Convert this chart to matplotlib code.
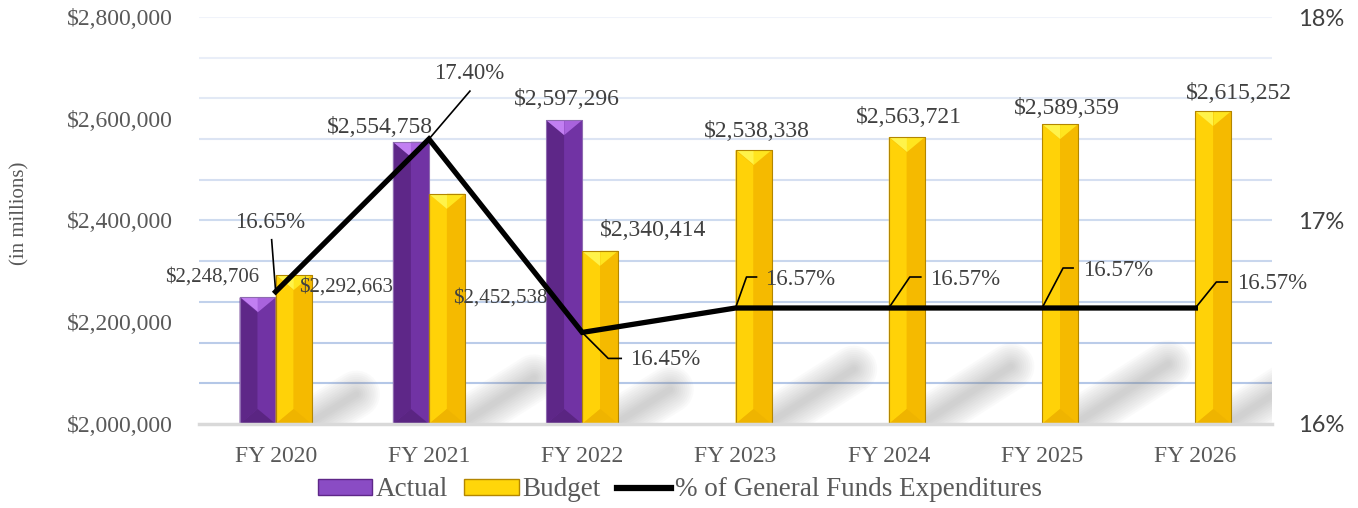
import matplotlib
matplotlib.use("Agg")
import matplotlib.pyplot as plt
import matplotlib.transforms as mtransforms
from matplotlib.patches import Polygon, Rectangle
from matplotlib.lines import Line2D
import numpy as np

# ---------------- data ----------------
categories = ["FY 2020", "FY 2021", "FY 2022", "FY 2023", "FY 2024", "FY 2025", "FY 2026"]
actual = [2248706, 2554758, 2597296, None, None, None, None]
budget = [2292663, 2452538, 2340414, 2538338, 2563721, 2589359, 2615252]
pct_gf = [16.65, 17.40, 16.45, 16.57, 16.57, 16.57, 16.57]
left_ticks = [2000000, 2200000, 2400000, 2600000, 2800000]
right_ticks = [16, 17, 18]
series_names = ["Actual", "Budget", "% of General Funds Expenditures"]

# ---------------- layout / style ----------------
W, H, DPI = 13.58, 5.08, 100
YMIN, YMAX = 2000000, 2800000
PMIN, PMAX = 16, 18
SERIF = "Liberation Serif"
TXT = "#404040"
TICK = "#595959"

# label offsets in pixels (dx right, dy up) relative to bar top centre / line point
act_off = [(-46, 20, 15), (-31, 14, 17), (3, 21, 17)]
bud_off = [(52, -12, 15), (53, -104, 15), (53, 20, 17), (3, 19, 17), (2, 20, 17), (7, 16, 17), (26, 17, 17)]
pct_off = [(-6, 69), (40, 66), (83, -27), (65, 29), (76, 29), (76, 38), (77, 25)]
leaders = [
    [(0, 0), (-4, 52)],
    [(0, 0), (41, 48)],
    [(0, 0), (26, -26), (39, -26)],
    [(0, 0), (11, 31), (21, 31)],
    [(0, 0), (21, 31), (32, 31)],
    [(0, 0), (21, 40), (31, 40)],
    [(0, 0), (21, 26), (32, 26)],
]

fig = plt.figure(figsize=(W, H), dpi=DPI)
L, R, T, B = 199, 1272, 17, 424
ax = fig.add_axes([L / 1358, 1 - B / 508, (R - L) / 1358, (B - T) / 508])
ax.set_xlim(-0.5, len(categories) - 0.5)
ax.set_ylim(YMIN, YMAX)

xs_px = (len(categories)) / (R - L)     # data x per pixel
ys_px = (YMAX - YMIN) / (B - T)         # data y per pixel

# gridlines (fade towards top)
nlines = 10
for k in range(1, nlines + 1):
    yv = YMIN + k * (YMAX - YMIN) / nlines
    a = 1.0 - 0.8 * (k - 1) / (nlines - 1)
    ax.axhline(yv, color="#b4c7e7", alpha=a, lw=1.5, zorder=0.5)
ax.axhline(YMIN, color="#d9d9d9", lw=2.5, zorder=4, clip_on=False)

x = np.arange(len(categories))
w = 0.235

# soft shadows
for i, bv in enumerate(budget):
    hpx = (bv - YMIN) / ys_px
    x_start = i + w - 10 * xs_px
    y_start = YMIN - 4 * ys_px
    x_end = i + w + 0.30 * hpx * xs_px
    y_end = YMIN + 0.20 * hpx * ys_px
    for lw in np.arange(34, 3, -3):
        ax.plot([x_start, x_end], [y_start, y_end], color="#808080", lw=lw,
                alpha=0.035, solid_capstyle="round", zorder=1)

# bars
a_idx = [i for i, v in enumerate(actual) if v is not None]
a_vals = np.array([actual[i] for i in a_idx], dtype=float)
bars_a = ax.bar(np.array(a_idx) - w, a_vals - YMIN, bottom=YMIN, width=w, align="edge",
                color="#7030a0", edgecolor="#8e6bb0", lw=0.6, zorder=2)
bars_b = ax.bar(x, np.array(budget, dtype=float) - YMIN, bottom=YMIN, width=w, align="edge",
                color="#f6b900", edgecolor="#b38600", lw=0.6, zorder=2)

pal_a = dict(left="#5e2788", right="#7133a4", top1="#c27ff2", top2="#a963dd", bot="#5a2582")
pal_b = dict(left="#ffd208", right="#f5ba00", top1="#fff34a", top2="#ffe51f", bot="#efb400")

def bevel(rect, pal):
    x0, b = rect.get_x(), rect.get_y()
    bw, bh = rect.get_width(), rect.get_height()
    x1, t, xm = x0 + bw, b + bh, x0 + bw / 2
    d = 15 * ys_px
    polys = [
        ([(x0, b), (x0, t), (xm, t - d), (xm, b + d)], pal["left"]),
        ([(xm, b + d), (xm, t - d), (x1, t), (x1, b)], pal["right"]),
        ([(x0, t), (xm, t), (xm, t - d)], pal["top1"]),
        ([(xm, t), (x1, t), (xm, t - d)], pal["top2"]),
        ([(x0, b), (x1, b), (xm, b + d)], pal["bot"]),
    ]
    for pts, c in polys:
        ax.add_patch(Polygon(pts, closed=True, facecolor=c, edgecolor="none", zorder=2.5))
    ax.add_patch(Rectangle((x0, b), bw, bh, facecolor="none",
                           edgecolor=rect.get_edgecolor(), lw=0.8, zorder=2.6))

for r in bars_a:
    bevel(r, pal_a)
for r in bars_b:
    bevel(r, pal_b)

# bar labels
for j, i in enumerate(a_idx):
    dx, dy, fs = act_off[j]
    ax.annotate(f"${actual[i]:,.0f}", xy=(i - w / 2, actual[i]), xytext=(dx * 0.72, dy * 0.72),
                textcoords="offset points", ha="center", va="center", fontsize=fs,
                family=SERIF, color=TXT, zorder=5)
for i, bv in enumerate(budget):
    dx, dy, fs = bud_off[i]
    ax.annotate(f"${bv:,.0f}", xy=(i + w / 2, bv), xytext=(dx * 0.72, dy * 0.72),
                textcoords="offset points", ha="center", va="center", fontsize=fs,
                family=SERIF, color=TXT, zorder=5)

# axes styling
for s in ax.spines.values():
    s.set_visible(False)
ax.set_xticks(x)
ax.set_xticklabels(categories, family=SERIF, fontsize=17, color=TICK)
ax.set_yticks(left_ticks)
ax.set_yticklabels([f"${v:,.0f}" for v in left_ticks], family=SERIF, fontsize=17, color=TICK)
ax.tick_params(axis="both", length=0)
ax.tick_params(axis="y", pad=19)
ax.tick_params(axis="x", pad=16)

# secondary axis + line
ax2 = ax.twinx()
ax2.set_ylim(PMIN, PMAX)
ax2.set_xlim(ax.get_xlim())
for s in ax2.spines.values():
    s.set_visible(False)
ax2.set_yticks(right_ticks)
ax2.set_yticklabels([f"{v}%" for v in right_ticks], family="Lato", fontsize=17, color=TXT)
ax2.tick_params(axis="y", length=0, pad=19)
ax2.plot(x, pct_gf, color="black", lw=3.8, zorder=3, solid_joinstyle="miter")

for i, p in enumerate(pct_gf):
    dx, dy = pct_off[i]
    ax2.annotate(f"{p:.2f}%", xy=(i, p), xytext=(dx * 0.72, dy * 0.72),
                 textcoords="offset points", ha="center", va="center", fontsize=16.5,
                 family=SERIF, color=TXT, zorder=5)
    tr = mtransforms.Affine2D().scale(DPI / 72 * 0.72) + \
        mtransforms.ScaledTranslation(i, p, ax2.transData)
    pts = np.array(leaders[i], dtype=float)
    ax2.add_line(Line2D(pts[:, 0], pts[:, 1], transform=tr, color="black", lw=1.2, zorder=4))

# y label
fig.text(20 / 1358, 1 - 213 / 508, "(in millions)", rotation=90, ha="center", va="center",
         family=SERIF, fontsize=15, color=TICK)

# legend
handles = [
    Rectangle((0, 0), 1, 1, facecolor="#8a4cc4", edgecolor="#5e2788", lw=1),
    Rectangle((0, 0), 1, 1, facecolor="#ffd60a", edgecolor="#b38600", lw=1),
    Line2D([0], [0], color="black", lw=4.5),
]
leg = fig.legend(handles, series_names, loc="center", bbox_to_anchor=(680 / 1358, 1 - 490 / 508),
                 ncol=3, frameon=False, prop=dict(family=SERIF, size=19.5),
                 handlelength=2.0, handleheight=0.55, handletextpad=0.15, columnspacing=0.6,
                 labelcolor=TICK)

fig.savefig("out.png", dpi=DPI)
